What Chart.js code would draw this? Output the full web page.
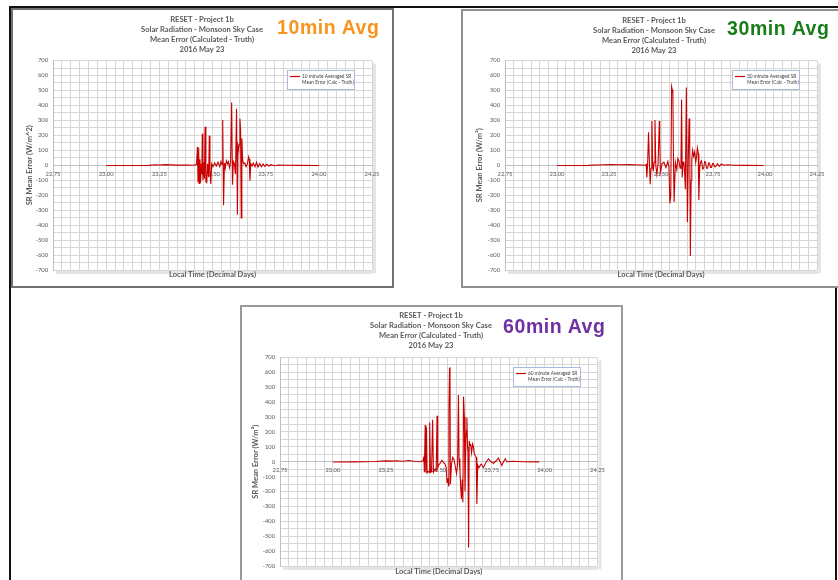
<!DOCTYPE html>
<html>
<head>
<meta charset="utf-8">
<script src="https://cdn.jsdelivr.net/npm/chart.js@4.4.1/dist/chart.umd.min.js"></script>
<style>
html,body{margin:0;padding:0;background:#fff;}
body{width:838px;height:580px;position:relative;overflow:hidden;font-family:Lato,sans-serif;}
.rule{position:absolute;background:#111;}
.frame{position:absolute;box-sizing:border-box;background:#fff;}
canvas{position:absolute;}
.tag{position:absolute;font-family:"Liberation Sans",Arial,sans-serif;font-weight:bold;font-size:19.5px;line-height:19.5px;letter-spacing:0.6px;white-space:nowrap;}
</style>
</head>
<body>
<div class="rule" style="left:9px;top:6px;width:829px;height:2px"></div>
<div class="rule" style="left:9px;top:6px;width:2px;height:574px"></div>
<div class="rule" style="left:835px;top:287px;width:2px;height:293px"></div>
<div class="frame" style="left:11px;top:8px;width:383px;height:280px;border:2px solid #707070"></div>
<div class="frame" style="left:461px;top:9px;width:390px;height:279px;border:2px solid #8f8f8f"></div>
<div class="frame" style="left:240px;top:305px;width:383px;height:280px;border:2px solid #9a9a9a"></div>
<canvas id="c10" width="378" height="275" style="left:13px;top:10px"></canvas>
<canvas id="c30" width="382" height="275" style="left:463px;top:11px"></canvas>
<canvas id="c60" width="378" height="273" style="left:242px;top:307px"></canvas>
<div class="tag" style="left:277px;top:18px;color:#F7941D">10min Avg</div>
<div class="tag" style="left:727px;top:19px;color:#1a7c1a">30min Avg</div>
<div class="tag" style="left:503px;top:317px;color:#7030A0">60min Avg</div>
<script>
// Chart titles shared by the three panels
const titleLines = ['RESET - Project 1b', 'Solar Radiation - Monsoon Sky Case', 'Mean Error (Calculated - Truth)', '2016 May 23'];

// Axis labels
const xLabels = [22.75, 23.00, 23.25, 23.50, 23.75, 24.00, 24.25];
const yMin = -700, yMax = 700;
const hoursPerLabel = 6;

// 10-minute averaged SR mean error
const times10 = [23.000, 23.200, 23.230, 23.250, 23.280, 23.330, 23.380, 23.410, 23.425,
  23.429, 23.432, 23.435, 23.437, 23.441, 23.444, 23.447, 23.450, 23.452, 23.455,
  23.458, 23.462, 23.465, 23.469, 23.473, 23.477, 23.482, 23.485, 23.488, 23.492,
  23.496, 23.502, 23.510, 23.518, 23.526, 23.534, 23.540, 23.545, 23.548, 23.552,
  23.556, 23.560, 23.565, 23.570, 23.575, 23.580, 23.585, 23.590, 23.594, 23.598,
  23.603, 23.608, 23.613, 23.617, 23.620, 23.623, 23.626, 23.629, 23.632, 23.635,
  23.638, 23.642, 23.647, 23.652, 23.658, 23.664, 23.670, 23.673, 23.676, 23.680,
  23.686, 23.692, 23.700, 23.707, 23.714, 23.722, 23.730, 23.738, 23.746, 23.755,
  23.765, 23.775, 23.790, 23.810, 23.850, 23.900, 24.000];
const err10 = [-2, -1, 3, 2, 4, 1, 2, 0, 5,
  124, -110, 118, -122, 40, -115, 10, -60, 210, -100,
  20, -90, 258, -110, -115, 10, -80, 198, -30, -125,
  10, -10, 15, -5, 20, -10, 25, 5, 302, -268,
  15, -20, 30, 10, 25, -15, 20, 420, -130, 25,
  10, -60, 378, -330, 130, 110, 140, 312, 235, -352,
  180, 30, 10, 15, -10, 10, 57, 40, -104, 10,
  -5, 15, -10, 20, -12, 10, -10, 8, -8, 6,
  -5, 4, -3, 2, 0, -1, -2];

// 30-minute averaged SR mean error
const times30 = [23.000, 23.150, 23.220, 23.260, 23.300, 23.350, 23.400, 23.425, 23.429, 23.432,
  23.436, 23.440, 23.444, 23.448, 23.452, 23.456, 23.460, 23.463, 23.467, 23.471,
  23.475, 23.480, 23.486, 23.492, 23.494, 23.497, 23.505, 23.514, 23.524, 23.533,
  23.538, 23.543, 23.547, 23.551, 23.554, 23.557, 23.560, 23.563, 23.569, 23.576,
  23.581, 23.586, 23.592, 23.596, 23.599, 23.602, 23.606, 23.610, 23.614, 23.617,
  23.622, 23.627, 23.631, 23.635, 23.637, 23.639, 23.641, 23.645, 23.648, 23.652,
  23.657, 23.662, 23.667, 23.671, 23.675, 23.679, 23.682, 23.686, 23.690, 23.695,
  23.700, 23.705, 23.710, 23.714, 23.719, 23.724, 23.729, 23.733, 23.738, 23.743,
  23.748, 23.752, 23.757, 23.762, 23.771, 23.781, 23.790, 23.800, 23.820, 23.850,
  23.900, 23.993];
const err30 = [-2, -1, 3, 5, 3, 4, 2, 0, 5, -82,
  20, 220, 30, -127, -20, 295, 10, -40, 20, 303,
  0, -60, 10, 295, 182, -48, 10, 20, -15, 25,
  -10, -255, -200, 525, 505, 480, 30, -245, 20, -30,
  45, 30, -20, 10, 440, -82, 20, 25, -60, -160,
  520, -380, 20, 312, 180, 220, -607, -100, 30, 100,
  60, 90, 20, 60, 115, 80, -232, -20, 20, 30,
  -25, -20, 25, 20, -20, -20, 15, 15, -15, -15,
  12, 12, -10, -10, 10, -8, 8, 0, 3, 0,
  -1, -2];

// 60-minute averaged SR mean error
const times60 = [23.000, 23.100, 23.200, 23.250, 23.280, 23.300, 23.330, 23.360, 23.390, 23.410,
  23.425, 23.430, 23.432, 23.436, 23.439, 23.442, 23.445, 23.450, 23.454, 23.457,
  23.461, 23.466, 23.471, 23.475, 23.482, 23.488, 23.492, 23.495, 23.500, 23.507,
  23.515, 23.522, 23.530, 23.535, 23.539, 23.543, 23.546, 23.548, 23.551, 23.553,
  23.555, 23.560, 23.566, 23.572, 23.578, 23.584, 23.589, 23.593, 23.596, 23.600,
  23.604, 23.607, 23.611, 23.614, 23.617, 23.621, 23.624, 23.628, 23.631, 23.633,
  23.636, 23.638, 23.641, 23.644, 23.648, 23.651, 23.655, 23.660, 23.664, 23.668,
  23.673, 23.677, 23.680, 23.684, 23.690, 23.700, 23.711, 23.723, 23.735, 23.747,
  23.759, 23.770, 23.782, 23.790, 23.798, 23.806, 23.814, 23.822, 23.850, 23.900,
  23.975];
const err60 = [-2, -1, 2, 6, 4, 7, 3, 8, 2, 0,
  5, 30, -70, 246, -72, 232, -75, -65, -70, 264,
  -72, -65, 282, -70, -50, -60, 309, -40, -20, -10,
  10, -5, -15, -40, -139, -110, -161, 354, 633, 610,
  -150, -20, 30, 15, -30, -80, -20, 448, 20, -60,
  -180, -250, -120, -272, 438, 300, -200, 150, 210, 297,
  100, 60, -575, 140, 110, 119, 60, 119, 100, 50,
  40, 30, -284, -20, -40, -15, -40, -5, 20, 0,
  -10, 5, 25, 0, -25, 0, 20, 0, 3, 0,
  -1];

const legend10 = ['10 minute Averaged SR', 'Mean Error (Calc - Truth)'];
const legend30 = ['30 minute Averaged SR', 'Mean Error (Calc - Truth)'];
const legend60 = ['60 minute Averaged SR', 'Mean Error (Calc - Truth)'];

Chart.defaults.font.family = 'Lato';

// soft drop shadow along the right and bottom of the plot area
const plotShadow = {
  id: 'plotShadow',
  beforeDraw(chart) {
    const {ctx, chartArea: a} = chart;
    ctx.save();
    ctx.fillStyle = 'rgba(0,0,0,0.10)';
    ctx.fillRect(a.right + 1, a.top + 3, 3, a.height);
    ctx.fillRect(a.left + 3, a.bottom + 1, a.width - 2, 3);
    ctx.restore();
  }
};

// small boxed legend inside the upper right of the plot
const boxedLegend = {
  id: 'boxedLegend',
  afterDraw(chart, args, opts) {
    const {ctx, chartArea: a} = chart;
    const ds = chart.data.datasets[0];
    const w = 67, h = 19;
    const x = Math.round(a.right - 18 - w), y = Math.round(a.top + 9);
    ctx.save();
    ctx.fillStyle = '#fff';
    ctx.fillRect(x, y, w, h);
    ctx.strokeStyle = '#a9bcdd';
    ctx.lineWidth = 1;
    ctx.strokeRect(x + 0.5, y + 0.5, w, h);
    ctx.strokeStyle = ds.borderColor;
    ctx.lineWidth = 1.2;
    ctx.beginPath();
    ctx.moveTo(x + 3, y + 6.5);
    ctx.lineTo(x + 13, y + 6.5);
    ctx.stroke();
    ctx.fillStyle = '#404040';
    ctx.font = '4.8px Lato';
    ctx.textBaseline = 'middle';
    opts.lines.forEach((t, i) => ctx.fillText(t, x + 15, y + 6.5 + i * 6));
    ctx.restore();
  }
};

function buildChart(id, times, values, legendLines, yTitle, g) {
  const xMin = xLabels[0], xMax = xLabels[xLabels.length - 1];
  const steps = (xLabels.length - 1) * hoursPerLabel;
  return new Chart(document.getElementById(id), {
    type: 'line',
    data: {
      datasets: [{
        label: legendLines.join(' '),
        data: times.map((t, i) => ({x: t, y: values[i]})),
        xAxisID: 'x', yAxisID: 'y',
        borderColor: '#c80000', borderWidth: 1.1,
        pointRadius: 0, tension: 0, fill: false
      }]
    },
    options: {
      responsive: false, animation: false, devicePixelRatio: 1,
      layout: {padding: 0},
      plugins: {
        legend: {display: false},
        tooltip: {enabled: false},
        title: {
          display: true, text: titleLines, color: '#595959',
          font: {family: 'Lato', size: 7.6, weight: 'bold', lineHeight: 1.3},
          padding: {top: g.titleTop, bottom: g.titleBottom}
        },
        boxedLegend: {lines: legendLines}
      },
      scales: {
        x: {
          type: 'linear', min: xMin, max: xMax, position: {y: 0},
          afterBuildTicks: s => {
            const t = [];
            for (let i = 0; i <= steps; i++) t.push({value: xMin + (xMax - xMin) * i / steps});
            s.ticks = t;
          },
          ticks: {
            autoSkip: false, maxRotation: 0, padding: 5, color: '#595959',
            font: {family: 'Lato', size: 5.8},
            callback: (v, i) => i % hoursPerLabel === 0 ? xLabels[i / hoursPerLabel].toFixed(2) : ''
          },
          grid: {color: '#d6d6d6', lineWidth: 1, drawTicks: false},
          border: {color: '#bfbfbf'}
        },
        xTitle: {
          type: 'linear', axis: 'x', position: 'bottom', min: xMin, max: xMax,
          ticks: {display: false}, grid: {display: false}, border: {display: false},
          title: {
            display: true, text: 'Local Time (Decimal Days)', color: '#595959',
            font: {family: 'Lato', size: 7.5, weight: 'bold'},
            padding: {top: 0, bottom: g.x2Pad}
          },
          afterFit: s => { s.height = g.x2Height; }
        },
        y: {
          type: 'linear', min: yMin, max: yMax, position: 'left',
          afterBuildTicks: s => {
            const t = [];
            for (let v = yMin; v <= yMax; v += 50) t.push({value: v});
            s.ticks = t;
          },
          ticks: {
            autoSkip: false, padding: 5, color: '#595959',
            font: {family: 'Lato', size: 5.8},
            callback: v => v % 100 === 0 ? String(v) : ''
          },
          grid: {color: '#d6d6d6', lineWidth: 1, drawTicks: false},
          border: {color: '#bfbfbf'},
          title: {
            display: true, text: yTitle, color: '#595959',
            font: {family: 'Lato', size: 7.5, weight: 'bold'},
            padding: {top: g.yTitlePad, bottom: 0}
          },
          afterFit: s => { s.width = g.yWidth; }
        },
        gutter: {
          type: 'linear', axis: 'y', position: 'right',
          ticks: {display: false}, grid: {display: false}, border: {display: false},
          afterFit: s => { s.width = g.rightWidth; }
        }
      }
    },
    plugins: [plotShadow, boxedLegend]
  });
}

buildChart('c10', times10, err10, legend10, 'SR Mean Error (W/m^2)',
  {yWidth: 40, rightWidth: 19, titleTop: 5, titleBottom: 6, x2Height: 15, x2Pad: 5.5, yTitlePad: 12.5});
buildChart('c30', times30, err30, legend30, 'SR Mean Error (W/m\u00B2)',
  {yWidth: 42, rightWidth: 28, titleTop: 4.5, titleBottom: 5.5, x2Height: 16, x2Pad: 6.5, yTitlePad: 12.5});
buildChart('c60', times60, err60, legend60, 'SR Mean Error (W/m\u00B2)',
  {yWidth: 38, rightWidth: 22.5, titleTop: 3.5, titleBottom: 7.5, x2Height: 14, x2Pad: 3.5, yTitlePad: 9.5});
</script>
</body>
</html>
